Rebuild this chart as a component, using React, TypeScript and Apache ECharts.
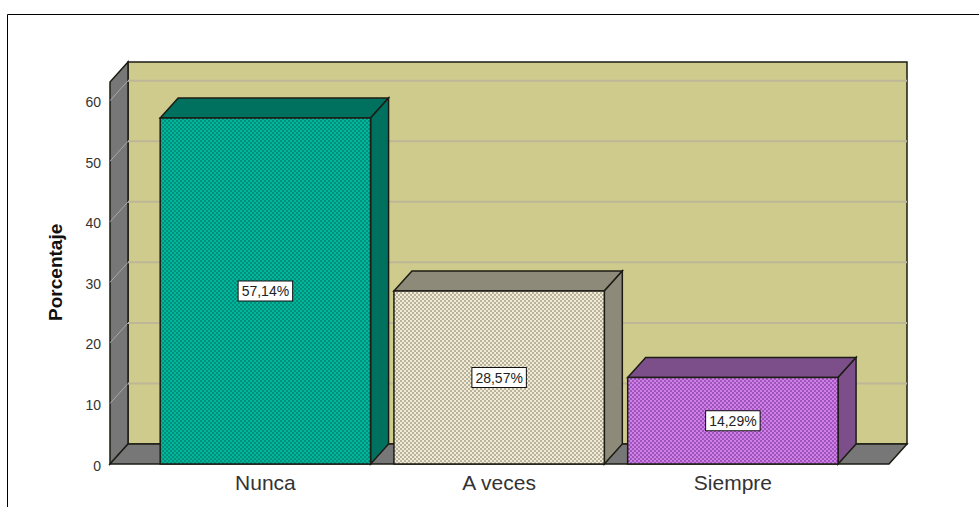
import React, { useEffect, useRef } from "react";
import * as echarts from "echarts";

const categories = ["Nunca", "A veces", "Siempre"];
const percentages = [57.14, 28.57, 14.29];
const percentLabels = ["57,14%", "28,57%", "14,29%"];
const yTicks = [0, 10, 20, 30, 40, 50, 60];
const wallTopValue = 63.1;

const FRONT = ["#00B79B", "#F1EBD6", "#D27EEA"];
const DOTS = ["#008F7A", "#B9B39D", "#9C56B8"];
const TOPS = ["#00705F", "#8E8A79", "#7C4F8B"];
const DX = 18;
const DY = -20;
const OUT = "#1c1c14";

function tile(base: string, dot: string) {
  const c = document.createElement("canvas");
  c.width = 4;
  c.height = 4;
  const g = c.getContext("2d")!;
  g.fillStyle = base;
  g.fillRect(0, 0, 4, 4);
  g.fillStyle = dot;
  g.fillRect(0, 0, 2, 2);
  g.fillRect(2, 2, 2, 2);
  return c;
}

export default function App() {
  const ref = useRef<HTMLDivElement>(null);
  useEffect(() => {
    document.body.style.margin = "0";
    document.body.style.background = "#fff";
    const chart = echarts.init(ref.current!, undefined, { renderer: "svg" });
    const patterns = FRONT.map((b, i) => ({
      image: tile(b, DOTS[i]),
      repeat: "repeat",
    }));

    const renderScene = (params: any, api: any) => {
      const cs = params.coordSys;
      const xL = cs.x - 38.5;
      const xR = cs.x + cs.width + 39.25;
      const y0 = api.coord([0, 0])[1];
      const yT = api.coord([0, wallTopValue])[1];
      const line = { stroke: OUT, lineWidth: 1.5 };
      const children: any[] = [
        {
          type: "rect",
          shape: { x: xL + DX, y: yT + DY, width: xR - xL, height: y0 - yT },
          style: { fill: "#CFCB8D", ...line },
        },
        {
          type: "polygon",
          shape: { points: [[xL, y0], [xL, yT], [xL + DX, yT + DY], [xL + DX, y0 + DY]] },
          style: { fill: "#777777", ...line },
        },
      ];
      yTicks.slice(1).forEach((t) => {
        const y = api.coord([0, t])[1];
        children.push({
          type: "line",
          shape: { x1: xL + DX, y1: y + DY, x2: xR + DX, y2: y + DY },
          style: { stroke: "#BDB798", lineWidth: 2 },
        });
      });
      yTicks.forEach((t) => {
        const y = api.coord([0, t])[1];
        children.push({
          type: "line",
          shape: { x1: xL, y1: y, x2: xL + DX, y2: y + DY },
          style: { stroke: "#A8A8A8", lineWidth: 1 },
        });
      });
      children.push({
        type: "polygon",
        shape: { points: [[xL, y0], [xL + DX, y0 + DY], [xR + DX, y0 + DY], [xR, y0]] },
        style: { fill: "#777777", ...line },
      });
      return { type: "group", children };
    };

    const renderBar = (params: any, api: any) => {
      const i = api.value(0);
      const v = api.value(1);
      const [cx, yTop] = api.coord([i, v]);
      const y0 = api.coord([i, 0])[1];
      const w = api.size([1, 0])[0] * 0.9;
      const l = cx - w / 2;
      const r = cx + w / 2;
      const line = { stroke: OUT, lineWidth: 1.5 };
      return {
        type: "group",
        children: [
          {
            type: "polygon",
            shape: { points: [[l, yTop], [l + DX, yTop + DY], [r + DX, yTop + DY], [r, yTop]] },
            style: { fill: TOPS[i], ...line },
          },
          {
            type: "polygon",
            shape: { points: [[r, yTop], [r + DX, yTop + DY], [r + DX, y0 + DY], [r, y0]] },
            style: { fill: TOPS[i], ...line },
          },
          {
            type: "rect",
            shape: { x: l, y: yTop, width: w, height: y0 - yTop },
            style: { fill: patterns[i], ...line },
          },
          {
            type: "text",
            x: cx,
            y: (yTop + y0) / 2,
            style: {
              text: percentLabels[i],
              fontFamily: "Liberation Sans",
              fontSize: 14,
              fill: "#222",
              align: "center",
              verticalAlign: "middle",
              backgroundColor: "#fff",
              borderColor: "#111",
              borderWidth: 1,
              padding: [3, 3, 2, 3],
            },
          },
        ],
      };
    };

    chart.setOption({
      animation: false,
      backgroundColor: "#fff",
      grid: { left: 148.5, top: 100.7, width: 701.25, height: 363.3 },
      xAxis: {
        type: "category",
        data: categories,
        axisLine: { show: false },
        axisTick: { show: false },
        axisLabel: {
          fontFamily: "Liberation Sans",
          fontSize: 21,
          color: "#333",
          margin: 8,
        },
      },
      yAxis: {
        type: "value",
        min: 0,
        max: 60,
        interval: 10,
        offset: 38.5,
        name: "Porcentaje",
        nameLocation: "middle",
        nameRotate: 90,
        nameGap: 45,
        nameTextStyle: {
          fontFamily: "Liberation Sans",
          fontWeight: "bold",
          fontSize: 19,
          color: "#111",
          padding: [0, 0, 0, 20],
        },
        axisLine: { show: false },
        axisTick: { show: false },
        splitLine: { show: false },
        axisLabel: {
          fontFamily: "Liberation Sans",
          fontSize: 14,
          color: "#333",
          margin: 9,
          verticalAlign: "top",
          lineHeight: 3,
        },
      },
      series: [
        {
          type: "custom",
          renderItem: renderScene,
          data: [[0, 0]],
          clip: false,
          silent: true,
          z: 1,
        },
        {
          type: "custom",
          renderItem: renderBar,
          data: percentages.map((v, i) => [i, v]),
          clip: false,
          z: 2,
        },
      ],
      graphic: [
        {
          type: "line",
          shape: { x1: 7.5, y1: 14.5, x2: 979, y2: 14.5 },
          style: { stroke: "#000", lineWidth: 1 },
        },
        {
          type: "line",
          shape: { x1: 7.5, y1: 14.5, x2: 7.5, y2: 507 },
          style: { stroke: "#000", lineWidth: 1 },
        },
      ],
    });
    return () => chart.dispose();
  }, []);
  return (
    <div
      ref={ref}
      style={{ position: "fixed", left: 0, top: 0, width: 979, height: 507 }}
    />
  );
}
